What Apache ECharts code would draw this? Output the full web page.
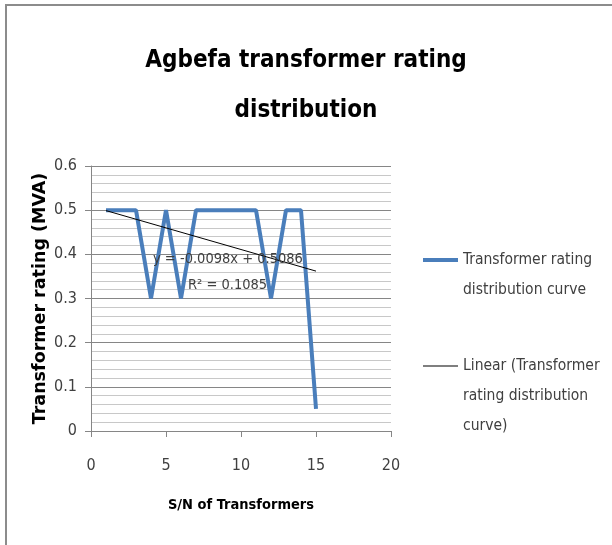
<!DOCTYPE html>
<html>
<head>
<meta charset="utf-8">
<script src="https://cdn.jsdelivr.net/npm/echarts@6/dist/echarts.min.js"></script>
<style>
  html, body { margin: 0; padding: 0; background: #fff; }
  #main { width: 612px; height: 545px; }
</style>
</head>
<body>
<div id="main"></div>
<script>
  // S/N of transformers and their rating (MVA)
  let serialNo = [1, 2, 3, 4, 5, 6, 7, 8, 9, 10, 11, 12, 13, 14, 15];
  let ratings = [0.5, 0.5, 0.5, 0.3, 0.5, 0.3, 0.5, 0.5, 0.5, 0.5, 0.5, 0.3, 0.5, 0.5, 0.05];
  // linear trendline end points as drawn
  let trendX = [1, 15];
  let trendY = [0.499, 0.362];
  let trendText = ['y = -0.0098x + 0.5086', 'R² = 0.1085'];

  let seriesName = 'Transformer rating distribution curve';
  let trendName = 'Linear (Transformer rating distribution curve)';

  let myChart = echarts.init(document.getElementById('main'));
  let font = '"DejaVu Sans Condensed", "Liberation Sans Narrow", "Liberation Sans", sans-serif';

  let option = {
    backgroundColor: '#fff',
    animation: false,
    title: {
      text: 'Agbefa transformer rating\ndistribution',
      left: 'center',
      top: 31,
      textStyle: {
        fontFamily: font,
        fontWeight: 'bold',
        fontSize: 24,
        lineHeight: 50,
        color: '#000'
      }
    },
    grid: {
      left: 91,
      right: 221,
      top: 166,
      bottom: 114
    },
    legend: [
      {
        data: [seriesName],
        left: 423,
        top: 215,
        padding: 0,
        icon: 'rect',
        itemWidth: 35,
        itemHeight: 4,
        itemStyle: { color: '#4a7ebb' },
        // blank line on top keeps the icon level with the first text line
        formatter: function () { return '\nTransformer rating\ndistribution curve'; },
        textStyle: {
          fontFamily: font,
          fontSize: 15.5,
          lineHeight: 30,
          color: '#404040'
        }
      },
      {
        data: [trendName],
        left: 423,
        top: 291,
        padding: 0,
        icon: 'rect',
        itemWidth: 35,
        itemHeight: 1,
        itemStyle: { color: '#000' },
        formatter: function () { return '\n\nLinear (Transformer\nrating distribution\ncurve)'; },
        textStyle: {
          fontFamily: font,
          fontSize: 15.5,
          lineHeight: 30,
          color: '#404040'
        }
      }
    ],
    xAxis: {
      type: 'value',
      min: 0,
      max: 20,
      interval: 5,
      name: 'S/N of Transformers',
      nameLocation: 'middle',
      nameGap: 67,
      nameTextStyle: {
        fontFamily: font,
        fontWeight: 'bold',
        fontSize: 14.5,
        color: '#000'
      },
      axisLine: { lineStyle: { color: '#868686', width: 1 } },
      axisTick: { show: true, length: 6, lineStyle: { color: '#868686' } },
      axisLabel: {
        margin: 27,
        fontFamily: font,
        fontSize: 16,
        color: '#404040'
      },
      splitLine: { show: false }
    },
    yAxis: {
      type: 'value',
      min: 0,
      max: 0.6,
      interval: 0.1,
      name: 'Transformer rating (MVA)',
      nameLocation: 'middle',
      nameGap: 42,
      nameTextStyle: {
        fontFamily: '"DejaVu Sans", sans-serif',
        fontWeight: 'bold',
        fontSize: 17.5,
        color: '#000'
      },
      axisLine: { show: true, lineStyle: { color: '#868686', width: 1 } },
      axisTick: { show: true, length: 6, lineStyle: { color: '#868686' } },
      axisLabel: {
        margin: 14,
        fontFamily: font,
        fontSize: 16,
        color: '#404040'
      },
      splitLine: { show: true, lineStyle: { color: '#868686', width: 1 } },
      minorTick: { show: false, splitNumber: 5 },
      minorSplitLine: { show: true, lineStyle: { color: '#c8c8c8', width: 1 } }
    },
    graphic: [
      {
        type: 'line',
        shape: { x1: 5, y1: 5, x2: 612, y2: 5 },
        style: { stroke: '#8c8c8c', lineWidth: 2 }
      },
      {
        type: 'line',
        shape: { x1: 6, y1: 5, x2: 6, y2: 545 },
        style: { stroke: '#8c8c8c', lineWidth: 2 }
      },
      {
        type: 'text',
        left: 153,
        top: 252,
        z: 10,
        style: {
          text: trendText[0],
          fontFamily: font,
          fontSize: 14.5,
          fill: '#404040'
        }
      },
      {
        type: 'text',
        left: 188,
        top: 278,
        z: 10,
        style: {
          text: trendText[1],
          fontFamily: font,
          fontSize: 14.5,
          fill: '#404040'
        }
      }
    ],
    series: [
      {
        name: seriesName,
        type: 'line',
        symbol: 'none',
        lineStyle: { color: '#4a7ebb', width: 4 },
        itemStyle: { color: '#4a7ebb' },
        data: serialNo.map(function (x, i) { return [x, ratings[i]]; })
      },
      {
        name: trendName,
        type: 'line',
        symbol: 'none',
        z: 3,
        lineStyle: { color: '#000', width: 1 },
        itemStyle: { color: '#000' },
        data: trendX.map(function (x, i) { return [x, trendY[i]]; })
      }
    ]
  };
  myChart.setOption(option);
</script>
</body>
</html>
